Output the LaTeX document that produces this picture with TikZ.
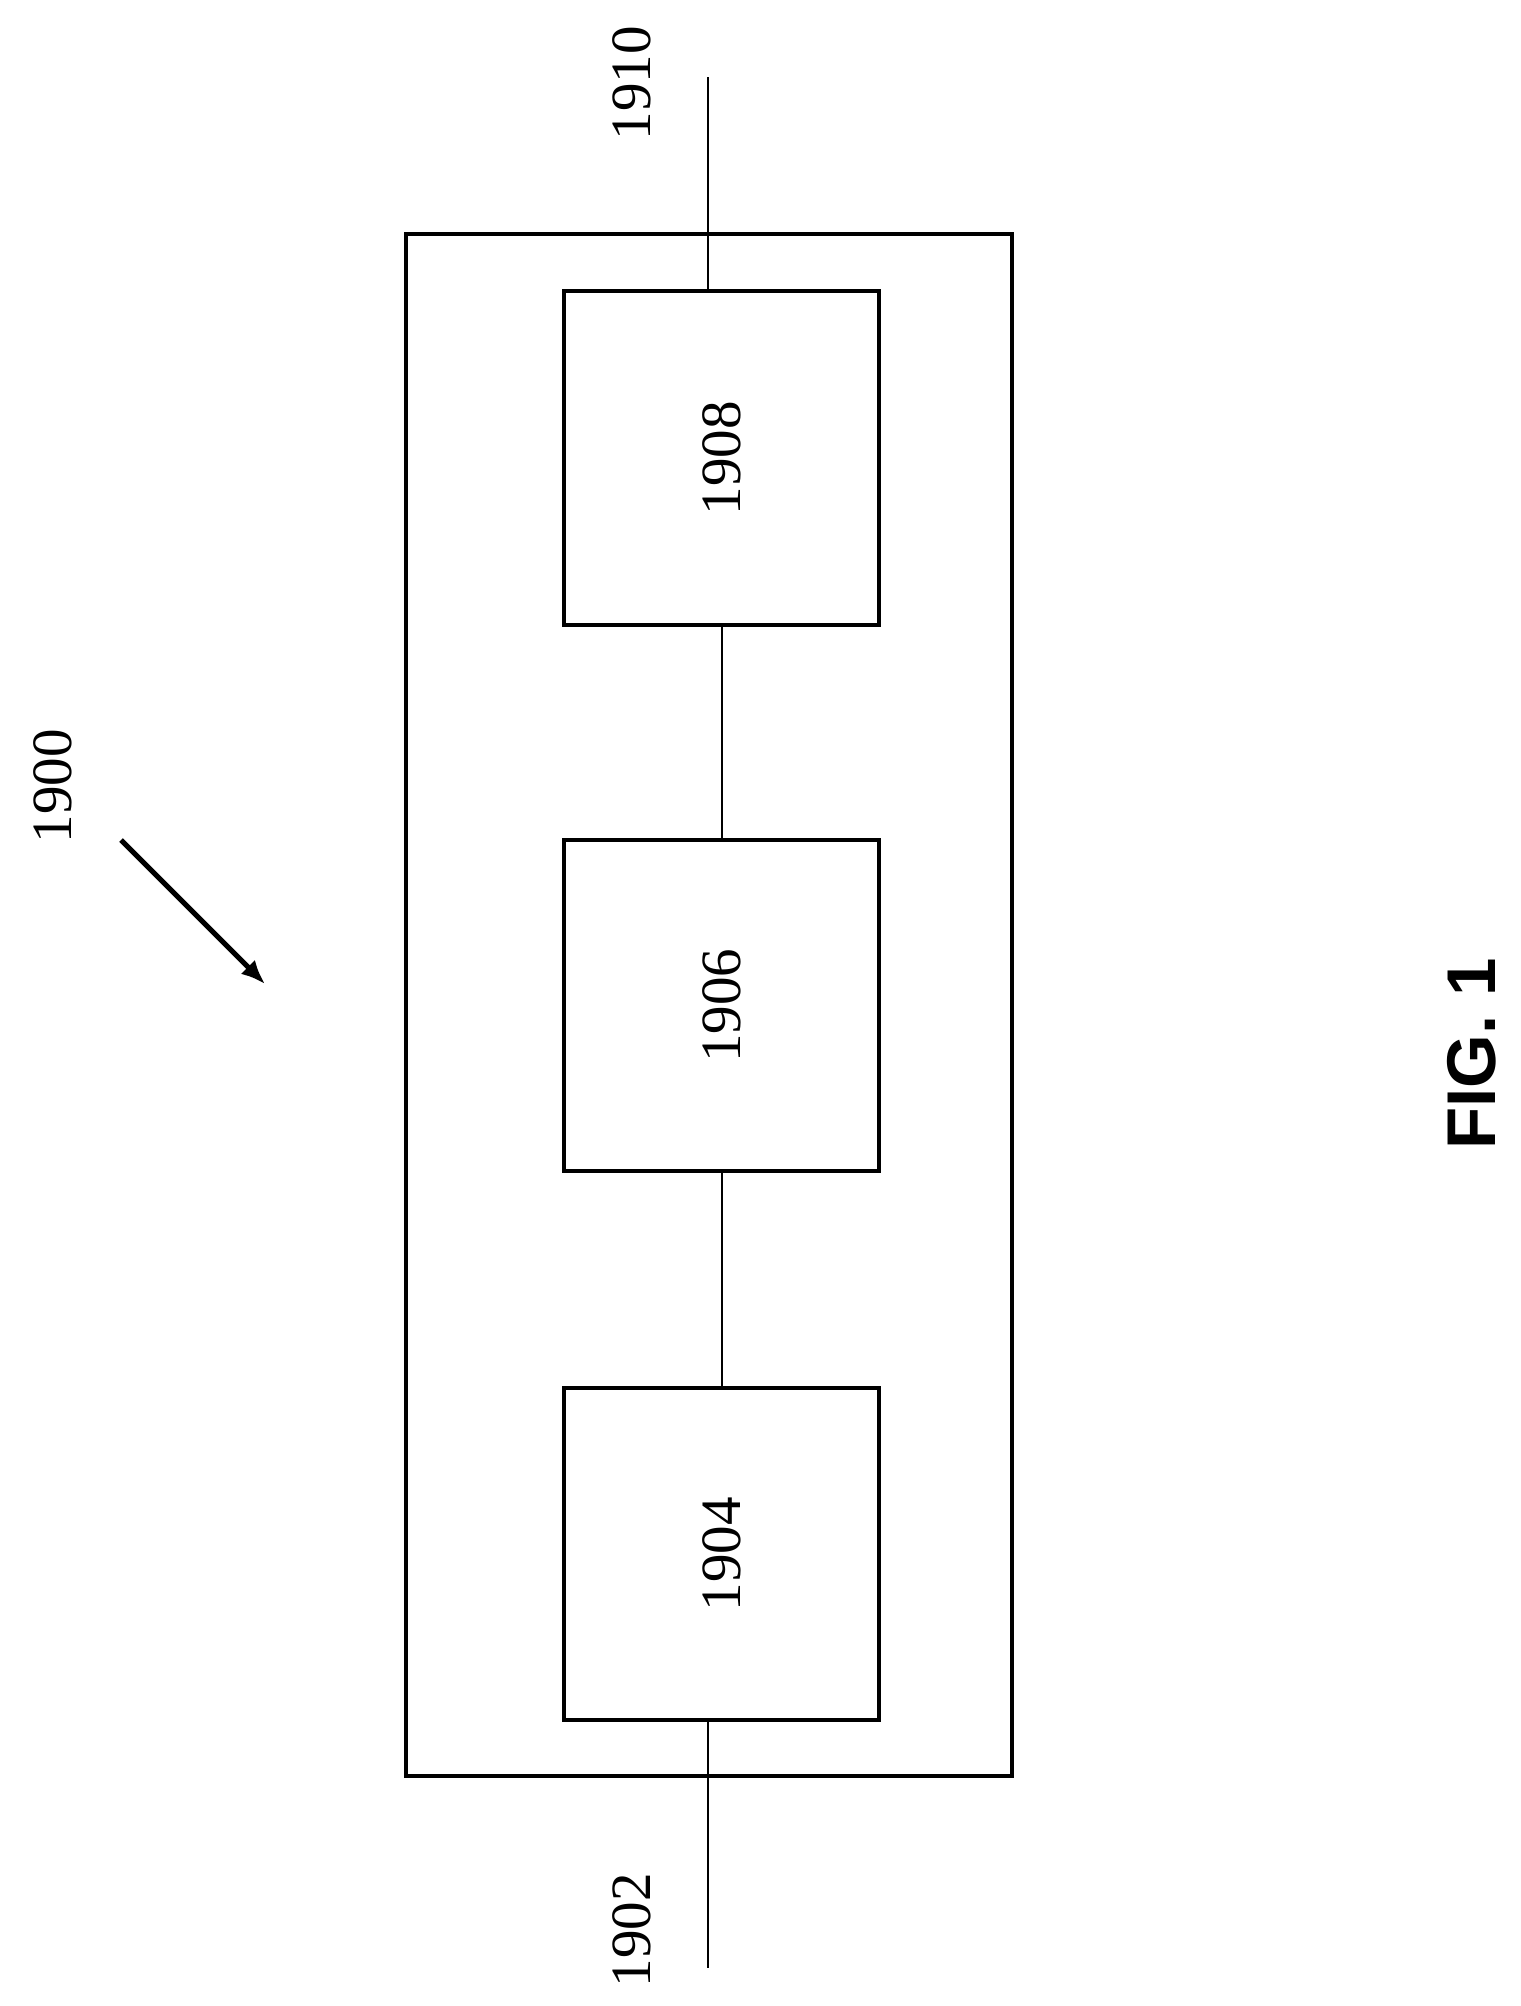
\documentclass[tikz,border=0pt]{standalone}
\usetikzlibrary{arrows.meta}
\usepackage{fontspec}
\setmainfont{Liberation Serif}
\newfontfamily\figfont{Liberation Sans}
\begin{document}
\begin{tikzpicture}[x=1pt,y=-1pt,
  blk/.style={draw,line width=4pt,minimum width=315pt,minimum height=332pt,inner sep=0pt,rotate=90,font=\fontsize{57}{60}\selectfont},
  lbl/.style={rotate=90,font=\fontsize{57}{60}\selectfont},
  wire/.style={line width=2pt}]
\useasboundingbox (0,0) rectangle (1521,2006);
\draw[line width=4pt] (406,234) rectangle (1012,1776);
\node[blk,minimum width=334pt,minimum height=315pt] (b8) at (721.5,458) {1908};
\node[blk,minimum width=331pt,minimum height=315pt] (b6) at (721.5,1005.5) {1906};
\node[blk,minimum width=332pt,minimum height=315pt] (b4) at (721.5,1554) {1904};
\coordinate (t) at (708,77);
\coordinate (bt) at (708,291);
\coordinate (bb) at (708,1720);
\coordinate (e) at (708,1968);
\draw[wire] (t) -- (bt);
\draw[wire] (bb) -- (e);
\draw[wire] (b8.west) -- (b6.east);
\draw[wire] (b6.west) -- (b4.east);
\node[lbl] (l1910) at (632,83) {1910};
\node[lbl] (l1902) at (632,1930) {1902};
\node[lbl] (l1900) at (53,786) {1900};
\coordinate (a1) at (121,840);
\coordinate (a2) at (265,984);
\draw[line width=5pt,-{Latex[length=24pt,width=20pt]}] (a1) -- (a2);
\node[rotate=90,font=\figfont\bfseries\fontsize{69}{72}\selectfont] (fig) at (1472,1054) {FIG. 1};
\end{tikzpicture}
\end{document}
